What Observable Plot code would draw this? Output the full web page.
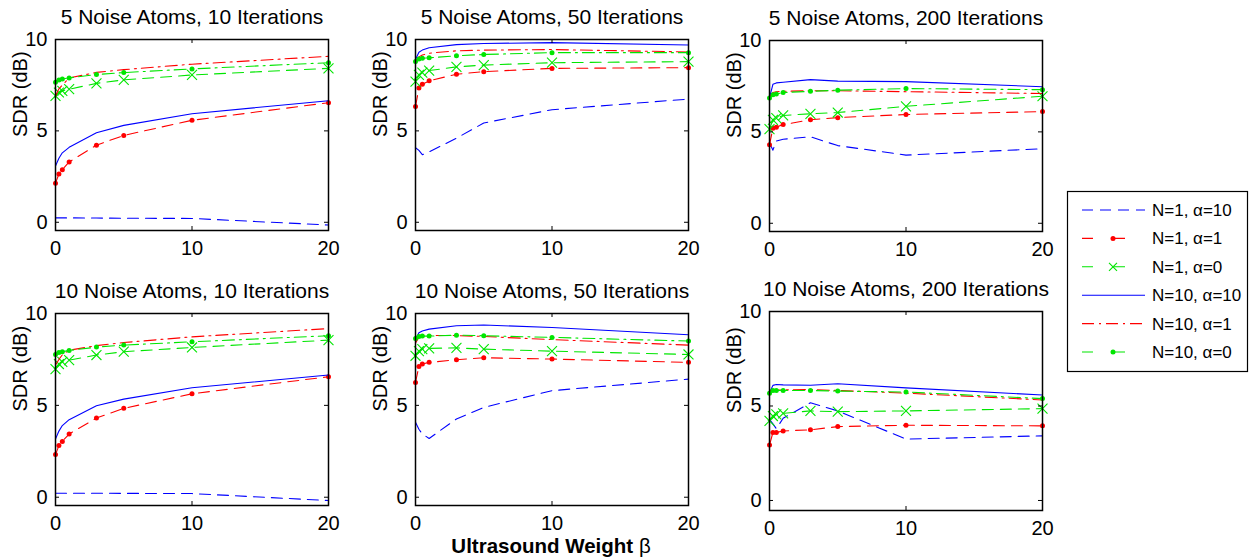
<!DOCTYPE html>
<html><head><meta charset="utf-8">
<script src="https://cdn.jsdelivr.net/npm/d3@7"></script>
<script src="https://cdn.jsdelivr.net/npm/@observablehq/plot@0.6"></script>
<style>
body{margin:0;background:#fff;}
#root{position:relative;width:1252px;height:558px;overflow:hidden;background:#fff;font-family:"Liberation Sans",Arial,Helvetica,sans-serif;color:#000;}
#root svg{position:absolute;overflow:visible;}
#xlabel{position:absolute;left:351px;width:400px;top:534px;text-align:center;font-weight:bold;font-size:20.5px;line-height:24px;white-space:nowrap;}
#xlabel span{font-weight:normal;}
</style></head><body><div id="root"><div id="xlabel">Ultrasound Weight <span>β</span></div></div>
<script>
// ---------------- data ----------------
const betas = [0, 0.25, 0.5, 1, 3, 5, 10, 20];
const seriesNames = ["N=1, α=10", "N=1, α=1", "N=1, α=0", "N=10, α=10", "N=10, α=1", "N=10, α=0"];
const panelTitles = [
  "5 Noise Atoms, 10 Iterations", "5 Noise Atoms, 50 Iterations", "5 Noise Atoms, 200 Iterations",
  "10 Noise Atoms, 10 Iterations", "10 Noise Atoms, 50 Iterations", "10 Noise Atoms, 200 Iterations"
];
const xTicks = [0, 10, 20];
const yTicks = [0, 5, 10];
const yLabel = "SDR (dB)";

const atoms5_iter10 = [
  [0.24, 0.24, 0.24, 0.24, 0.23, 0.22, 0.21, -0.15],
  [2.14, 2.64, 2.88, 3.30, 4.22, 4.75, 5.58, 6.54],
  [6.92, 7.10, 7.19, 7.28, 7.60, 7.79, 8.06, 8.42],
  [3.08, 3.50, 3.80, 4.10, 4.90, 5.30, 5.94, 6.65],
  [6.90, 7.30, 7.50, 7.90, 8.20, 8.35, 8.65, 9.08],
  [7.66, 7.79, 7.84, 7.90, 8.08, 8.19, 8.39, 8.73]
];
const atoms5_iter50 = [
  [4.08, 3.93, 3.70, 3.85, 4.60, 5.43, 6.16, 6.74],
  [6.34, 7.34, 7.55, 7.74, 8.10, 8.24, 8.42, 8.46],
  [7.70, 8.06, 8.19, 8.30, 8.50, 8.60, 8.73, 8.79],
  [8.90, 9.30, 9.42, 9.55, 9.72, 9.78, 9.83, 9.70],
  [8.80, 9.05, 9.15, 9.25, 9.38, 9.42, 9.45, 9.32],
  [8.79, 8.93, 8.97, 9.00, 9.11, 9.18, 9.28, 9.28]
];
const atoms5_iter200 = [
  [4.40, 4.00, 4.50, 4.60, 4.73, 4.25, 3.73, 4.08],
  [4.29, 5.20, 5.26, 5.40, 5.66, 5.78, 5.95, 6.11],
  [5.15, 5.66, 5.75, 5.90, 5.99, 6.06, 6.40, 6.95],
  [6.88, 7.60, 7.68, 7.72, 7.86, 7.78, 7.75, 7.47],
  [6.90, 7.15, 7.20, 7.22, 7.25, 7.25, 7.20, 7.10],
  [6.86, 7.03, 7.07, 7.15, 7.22, 7.28, 7.37, 7.31]
];
const atoms10_iter10 = [
  [0.22, 0.22, 0.22, 0.22, 0.22, 0.21, 0.20, -0.18],
  [2.32, 2.81, 3.04, 3.44, 4.31, 4.84, 5.63, 6.56],
  [6.97, 7.25, 7.37, 7.46, 7.74, 7.92, 8.15, 8.55],
  [3.17, 3.60, 3.90, 4.22, 4.98, 5.34, 5.96, 6.65],
  [7.20, 7.50, 7.75, 8.00, 8.25, 8.42, 8.73, 9.18],
  [7.77, 7.88, 7.92, 7.99, 8.17, 8.28, 8.46, 8.79]
];
const atoms10_iter50 = [
  [4.08, 3.70, 3.44, 3.20, 4.26, 4.89, 5.80, 6.43],
  [6.25, 7.12, 7.25, 7.34, 7.48, 7.59, 7.52, 7.34],
  [7.70, 7.95, 8.06, 8.10, 8.13, 8.06, 7.95, 7.77],
  [8.60, 8.95, 9.05, 9.15, 9.33, 9.37, 9.24, 8.84],
  [8.40, 8.70, 8.75, 8.80, 8.80, 8.75, 8.58, 8.28],
  [8.64, 8.75, 8.77, 8.77, 8.82, 8.79, 8.70, 8.50]
];
const atoms10_iter200 = [
  [4.30, 4.05, 3.80, 4.35, 5.17, 4.74, 3.25, 3.42],
  [2.93, 3.60, 3.60, 3.68, 3.74, 3.91, 3.98, 3.95],
  [4.21, 4.47, 4.56, 4.61, 4.74, 4.70, 4.74, 4.86],
  [5.70, 6.09, 6.14, 6.12, 6.10, 6.18, 5.96, 5.58],
  [5.80, 5.85, 5.85, 5.85, 5.87, 5.82, 5.68, 5.32],
  [5.67, 5.82, 5.82, 5.82, 5.82, 5.79, 5.74, 5.39]
];
const panelValues = [atoms5_iter10, atoms5_iter50, atoms5_iter200, atoms10_iter10, atoms10_iter50, atoms10_iter200];

// ---------------- styles & layout ----------------
const seriesColors = ["#0000ff", "#ff0000", "#00e600", "#0000ff", "#ff0000", "#00e600"];
const seriesDash = ["11,7", "11,7", "11,7", null, "12,5,2,5", "12,5,2,5"];
const seriesMarker = [null, "dot", "times", null, null, "dot"];
// box geometry of each panel: left, top, width, height, y-min
const panelBoxes = [
  {left: 55,  top: 39,  w: 273, h: 191, ymin: -0.45, svgTop: 0},
  {left: 415, top: 39,  w: 273, h: 191, ymin: -0.45, svgTop: 0},
  {left: 769, top: 40,  w: 273, h: 191, ymin: -0.45, svgTop: 0},
  {left: 55,  top: 313, w: 273, h: 192, ymin: -0.45, svgTop: 275},
  {left: 415, top: 313, w: 273, h: 192, ymin: -0.45, svgTop: 275},
  {left: 769, top: 311, w: 273, h: 199, ymin: -0.53, svgTop: 275}
];
const FONT = '"Liberation Sans", Arial, Helvetica, sans-serif';

const root = document.getElementById("root");

panelValues.forEach((values, p) => {
  const b = panelBoxes[p];
  const mL = 55, mR = 16, mB = 36, mT = b.top - b.svgTop;
  const rows = [];
  values.forEach((arr, si) => arr.forEach((v, k) => rows.push({beta: betas[k], sdr: v, s: si})));
  const marks = [];
  seriesNames.forEach((name, si) => {
    const d = rows.filter(r => r.s === si);
    marks.push(Plot.line(d, {x: "beta", y: "sdr", stroke: seriesColors[si], strokeWidth: 1.1, strokeDasharray: seriesDash[si]}));
    if (seriesMarker[si] === "dot") marks.push(Plot.dot(d, {x: "beta", y: "sdr", r: 2.5, fill: seriesColors[si], stroke: "none"}));
    if (seriesMarker[si] === "times") marks.push(Plot.dot(d, {x: "beta", y: "sdr", r: 4.6, symbol: "times", stroke: seriesColors[si], strokeWidth: 1.1}));
  });
  const chart = Plot.plot({
    width: mL + b.w + mR,
    height: mT + b.h + mB,
    marginLeft: mL, marginRight: mR, marginTop: mT, marginBottom: mB,
    style: {fontFamily: FONT, fontSize: "20px", background: "transparent", overflow: "visible"},
    x: {domain: [0, 20]},
    y: {domain: [b.ymin, 10]},
    marks: [
      ...marks,
      Plot.tickX(xTicks, {x: d => d, insetTop: b.h - 4, stroke: "black", strokeWidth: 1}),
      Plot.tickX(xTicks, {x: d => d, insetBottom: b.h - 4, stroke: "black", strokeWidth: 1}),
      Plot.tickY(yTicks, {y: d => d, insetRight: b.w - 4, stroke: "black", strokeWidth: 1}),
      Plot.tickY(yTicks, {y: d => d, insetLeft: b.w - 4, stroke: "black", strokeWidth: 1}),
      Plot.frame({stroke: "black", strokeWidth: 1.5}),
      Plot.axisX({ticks: xTicks, anchor: "bottom", tickSize: 0, tickPadding: 10, label: null, fontSize: 20, tickFormat: d => String(d)}),
      Plot.axisY({ticks: yTicks, anchor: "left", tickSize: 0, tickPadding: 8, label: null, fontSize: 20, tickFormat: d => String(d)}),
      Plot.text([panelTitles[p]], {frameAnchor: "top", dy: -22, text: d => d, fontSize: 21, lineAnchor: "middle", fill: "black"}),
      Plot.text([yLabel], {frameAnchor: "left", dx: -35, dy: 2, rotate: -90, text: d => d, fontSize: 20, lineAnchor: "middle", fill: "black"})
    ]
  });
  chart.style.left = (b.left - mL) + "px";
  chart.style.top = b.svgTop + "px";
  root.appendChild(chart);
});

// ---------------- legend ----------------
const lg = d3.create("svg").attr("width", 182).attr("height", 182)
  .style("left", "1067px").style("top", "191px").style("font-family", FONT);
lg.append("rect").attr("x", 0.5).attr("y", 0.5).attr("width", 180).attr("height", 180)
  .attr("fill", "white").attr("stroke", "black").attr("stroke-width", 1.2);
seriesNames.forEach((name, i) => {
  const cy = 19 + i * 28.4;
  lg.append("line").attr("x1", 15).attr("x2", 78).attr("y1", cy).attr("y2", cy)
    .attr("stroke", seriesColors[i]).attr("stroke-width", 1.1)
    .attr("stroke-dasharray", seriesDash[i] ? (seriesMarker[i] ? "11,21" : seriesDash[i]) : null);
  if (seriesMarker[i] === "dot") lg.append("circle").attr("cx", 46).attr("cy", cy).attr("r", 2.5).attr("fill", seriesColors[i]);
  if (seriesMarker[i] === "times") lg.append("path").attr("d", `M42,${cy-4}L50,${cy+4}M42,${cy+4}L50,${cy-4}`)
    .attr("stroke", seriesColors[i]).attr("stroke-width", 1.1);
  lg.append("text").attr("x", 85).attr("y", cy).attr("dy", "0.35em").attr("font-size", 17).text(name);
});
root.appendChild(lg.node());
</script>
</body></html>
